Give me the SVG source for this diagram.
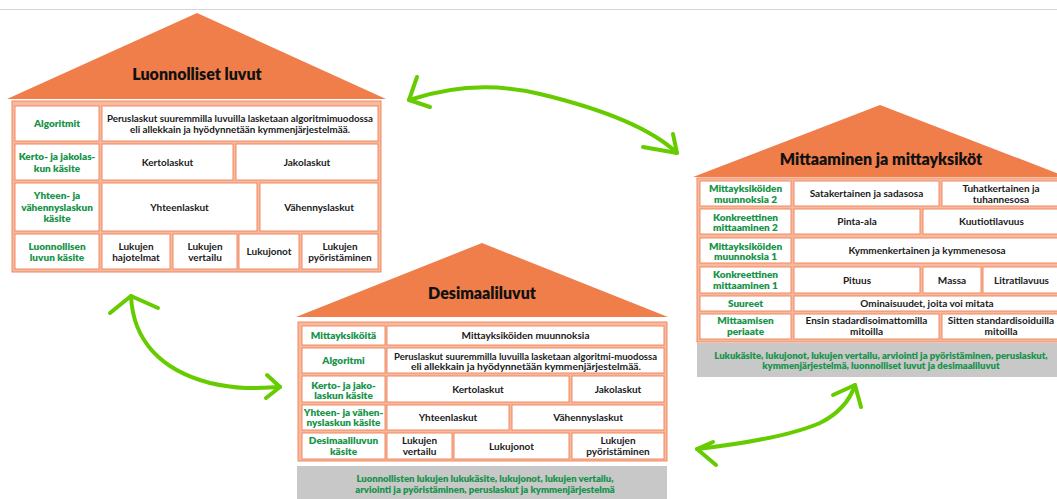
<svg xmlns="http://www.w3.org/2000/svg" width="1057" height="499" viewBox="0 0 1057 499">
<style>
text{font-family:Lato,"Liberation Sans",sans-serif;font-weight:bold;text-anchor:middle}
.roof{fill:#EF7E4B}
.tbl{fill:#F8B99D;stroke:#EE8A62;stroke-width:1}
.cell{fill:#fff;stroke:#EE8A62;stroke-width:1}
.gray{fill:#C8C8C8}
.title{font-size:16px;fill:#111;font-weight:800}
.lbl{font-size:10px;fill:#17944A;font-weight:800}
.txt{font-size:10px;fill:#1a1a1a}
.note{font-size:9.5px;fill:#17944A;font-weight:800}
.arr{fill:none;stroke:#66CC00;stroke-width:4;stroke-linecap:round;stroke-linejoin:round}
</style>
<line x1="0" y1="9.5" x2="1057" y2="9.5" stroke="#D4D4D4" stroke-width="1"/>

<g id="house-luonnolliset">
<polygon class="roof" points="7,99 197,13 386,99"/>
<text class="title" x="197" y="80">Luonnolliset luvut</text>
<rect class="tbl" x="12" y="101" width="369" height="171"/>
<rect class="cell" x="15" y="106" width="84" height="35"/>
<rect class="cell" x="102" y="106" width="276" height="35"/>
<rect class="cell" x="15" y="144" width="84" height="36"/>
<rect class="cell" x="102" y="144" width="131" height="36"/>
<rect class="cell" x="236" y="144" width="142" height="36"/>
<rect class="cell" x="15" y="183" width="84" height="48"/>
<rect class="cell" x="102" y="183" width="155" height="48"/>
<rect class="cell" x="260" y="183" width="118" height="48"/>
<rect class="cell" x="15" y="234" width="84" height="35"/>
<rect class="cell" x="102" y="234" width="68" height="35"/>
<rect class="cell" x="173" y="234" width="64" height="35"/>
<rect class="cell" x="239" y="234" width="60" height="35"/>
<rect class="cell" x="302" y="234" width="76" height="35"/>
<text class="lbl" x="57" y="127">Algoritmit</text>
<text class="txt" x="240" y="122" textLength="266" lengthAdjust="spacingAndGlyphs">Peruslaskut suuremmilla luvuilla lasketaan algoritmimuodossa</text>
<text class="txt" x="240" y="133" textLength="220" lengthAdjust="spacingAndGlyphs">eli allekkain ja hyödynnetään kymmenjärjestelmää.</text>
<text class="lbl" x="57" y="160">Kerto- ja jakolas-</text>
<text class="lbl" x="57" y="171.5">kun käsite</text>
<text class="txt" x="167.5" y="165.5">Kertolaskut</text>
<text class="txt" x="307" y="165.5">Jakolaskut</text>
<text class="lbl" x="57" y="199">Yhteen- ja</text>
<text class="lbl" x="57" y="210.5">vähennyslaskun</text>
<text class="lbl" x="57" y="222">käsite</text>
<text class="txt" x="179.5" y="210.5">Yhteenlaskut</text>
<text class="txt" x="319" y="210.5">Vähennyslaskut</text>
<text class="lbl" x="57" y="249.5">Luonnollisen</text>
<text class="lbl" x="57" y="261">luvun käsite</text>
<text class="txt" x="136" y="249.5">Lukujen</text>
<text class="txt" x="136" y="261">hajotelmat</text>
<text class="txt" x="205" y="249.5">Lukujen</text>
<text class="txt" x="205" y="261">vertailu</text>
<text class="txt" x="269" y="255">Lukujonot</text>
<text class="txt" x="340" y="249.5">Lukujen</text>
<text class="txt" x="340" y="261">pyöristäminen</text>
</g>

<g id="house-desimaaliluvut">
<polygon class="roof" points="296,317 482,243 668,317"/>
<text class="title" x="482" y="299">Desimaaliluvut</text>
<rect class="tbl" x="298" y="322" width="369" height="139"/>
<rect class="cell" x="302" y="326" width="83" height="19"/>
<rect class="cell" x="387" y="326" width="277" height="19"/>
<rect class="cell" x="302" y="348" width="83" height="25"/>
<rect class="cell" x="387" y="348" width="277" height="25"/>
<rect class="cell" x="302" y="376" width="83" height="26"/>
<rect class="cell" x="387" y="376" width="182" height="26"/>
<rect class="cell" x="572" y="376" width="92" height="26"/>
<rect class="cell" x="302" y="405" width="83" height="25"/>
<rect class="cell" x="387" y="405" width="122" height="25"/>
<rect class="cell" x="512" y="405" width="152" height="25"/>
<rect class="cell" x="302" y="433" width="83" height="26"/>
<rect class="cell" x="387" y="433" width="65" height="26"/>
<rect class="cell" x="454" y="433" width="115" height="26"/>
<rect class="cell" x="572" y="433" width="92" height="26"/>
<rect class="gray" x="297" y="466" width="370" height="40"/>
<text class="lbl" x="343.5" y="339">Mittayksiköitä</text>
<text class="txt" x="525.5" y="339">Mittayksiköiden muunnoksia</text>
<text class="lbl" x="343.5" y="364">Algoritmi</text>
<text class="txt" x="525.5" y="359.5" textLength="263" lengthAdjust="spacingAndGlyphs">Peruslaskut suuremmilla luvuilla lasketaan algoritmi-muodossa</text>
<text class="txt" x="526" y="370" textLength="230" lengthAdjust="spacingAndGlyphs">eli allekkain ja hyödynnetään kymmenjärjestelmää.</text>
<text class="lbl" x="343.5" y="388.5">Kerto- ja jako-</text>
<text class="lbl" x="343.5" y="398.5">laskun käsite</text>
<text class="txt" x="478" y="392.5">Kertolaskut</text>
<text class="txt" x="618" y="392.5">Jakolaskut</text>
<text class="lbl" x="343.5" y="416">Yhteen- ja vähen-</text>
<text class="lbl" x="343.5" y="426">nyslaskun käsite</text>
<text class="txt" x="448" y="421">Yhteenlaskut</text>
<text class="txt" x="588" y="421">Vähennyslaskut</text>
<text class="lbl" x="343.5" y="444">Desimaaliluvun</text>
<text class="lbl" x="343.5" y="454.5">käsite</text>
<text class="txt" x="419.5" y="444">Lukujen</text>
<text class="txt" x="419.5" y="454.5">vertailu</text>
<text class="txt" x="511.5" y="449.5">Lukujonot</text>
<text class="txt" x="618" y="444">Lukujen</text>
<text class="txt" x="618" y="454.5">pyöristäminen</text>
<text class="note" x="485" y="482">Luonnollisten lukujen lukukäsite, lukujonot, lukujen vertailu,</text>
<text class="note" x="485" y="493">arviointi ja pyöristäminen, peruslaskut ja kymmenjärjestelmä</text>
</g>

<g id="house-mittaaminen">
<polygon class="roof" points="693,177 880,105 1067,177"/>
<text class="title" x="881" y="165">Mittaaminen ja mittayksiköt</text>
<rect class="tbl" x="697" y="178" width="366" height="164"/>
<rect class="cell" x="700" y="181" width="91" height="25"/>
<rect class="cell" x="794" y="181" width="145" height="25"/>
<rect class="cell" x="942" y="181" width="118" height="25"/>
<rect class="cell" x="700" y="209" width="91" height="25"/>
<rect class="cell" x="794" y="209" width="126" height="25"/>
<rect class="cell" x="923" y="209" width="137" height="25"/>
<rect class="cell" x="700" y="238" width="91" height="25"/>
<rect class="cell" x="794" y="238" width="266" height="25"/>
<rect class="cell" x="700" y="267" width="91" height="26"/>
<rect class="cell" x="794" y="267" width="126" height="26"/>
<rect class="cell" x="923" y="267" width="58" height="26"/>
<rect class="cell" x="983" y="267" width="77" height="26"/>
<rect class="cell" x="700" y="296" width="91" height="15"/>
<rect class="cell" x="794" y="296" width="266" height="15"/>
<rect class="cell" x="700" y="314" width="91" height="25"/>
<rect class="cell" x="794" y="314" width="145" height="25"/>
<rect class="cell" x="942" y="314" width="118" height="25"/>
<rect class="gray" x="697" y="343" width="366" height="34"/>
<text class="lbl" x="745.5" y="191.5">Mittayksiköiden</text>
<text class="lbl" x="745.5" y="202.5">muunnoksia 2</text>
<text class="txt" x="866.5" y="197">Satakertainen ja sadasosa</text>
<text class="txt" x="1001" y="191.5">Tuhatkertainen ja</text>
<text class="txt" x="1001" y="202.5">tuhannesosa</text>
<text class="lbl" x="745.5" y="220.5">Konkreettinen</text>
<text class="lbl" x="745.5" y="231">mittaaminen 2</text>
<text class="txt" x="857" y="225">Pinta-ala</text>
<text class="txt" x="991.5" y="225">Kuutiotilavuus</text>
<text class="lbl" x="745.5" y="249.5">Mittayksiköiden</text>
<text class="lbl" x="745.5" y="259.5">muunnoksia 1</text>
<text class="txt" x="927" y="254">Kymmenkertainen ja kymmenesosa</text>
<text class="lbl" x="745.5" y="278">Konkreettinen</text>
<text class="lbl" x="745.5" y="288.5">mittaaminen 1</text>
<text class="txt" x="857" y="283.5">Pituus</text>
<text class="txt" x="952" y="283.5">Massa</text>
<text class="txt" x="1021.5" y="283.5">Litratilavuus</text>
<text class="lbl" x="745.5" y="307">Suureet</text>
<text class="txt" x="927" y="307">Ominaisuudet, joita voi mitata</text>
<text class="lbl" x="745.5" y="324">Mittaamisen</text>
<text class="lbl" x="745.5" y="335">periaate</text>
<text class="txt" x="866.5" y="324">Ensin stadardisoimattomilla</text>
<text class="txt" x="866.5" y="335">mitoilla</text>
<text class="txt" x="1001" y="324">Sitten standardisoiduilla</text>
<text class="txt" x="1001" y="335">mitoilla</text>
<text class="note" x="881" y="358.5">Lukukäsite, lukujonot, lukujen vertailu, arviointi ja pyöristäminen, peruslaskut,</text>
<text class="note" x="881" y="369">kymmenjärjestelmä, luonnolliset luvut ja desimaaliluvut</text>
</g>

<g id="connectors">
<path class="arr" d="M409,100 Q475,78 540,94 Q640,118 677,153"/>
<path class="arr" d="M417,77 L409,100 L430,107"/>
<path class="arr" d="M673,134 L677,153 L643,147"/>
<path class="arr" d="M131,296 C133,340 160,370 210,383 C240,390 260,388 280,387"/>
<path class="arr" d="M110,313 L131,296 L158,308"/>
<path class="arr" d="M267,375 L280,387 L266,398"/>
<path class="arr" d="M697,449 C740,444 790,436 820,423 C840,413 850,400 855,385"/>
<path class="arr" d="M713,442 L697,449 L716,465"/>
<path class="arr" d="M833,395 L855,385 L861,407"/>
</g>
</svg>
